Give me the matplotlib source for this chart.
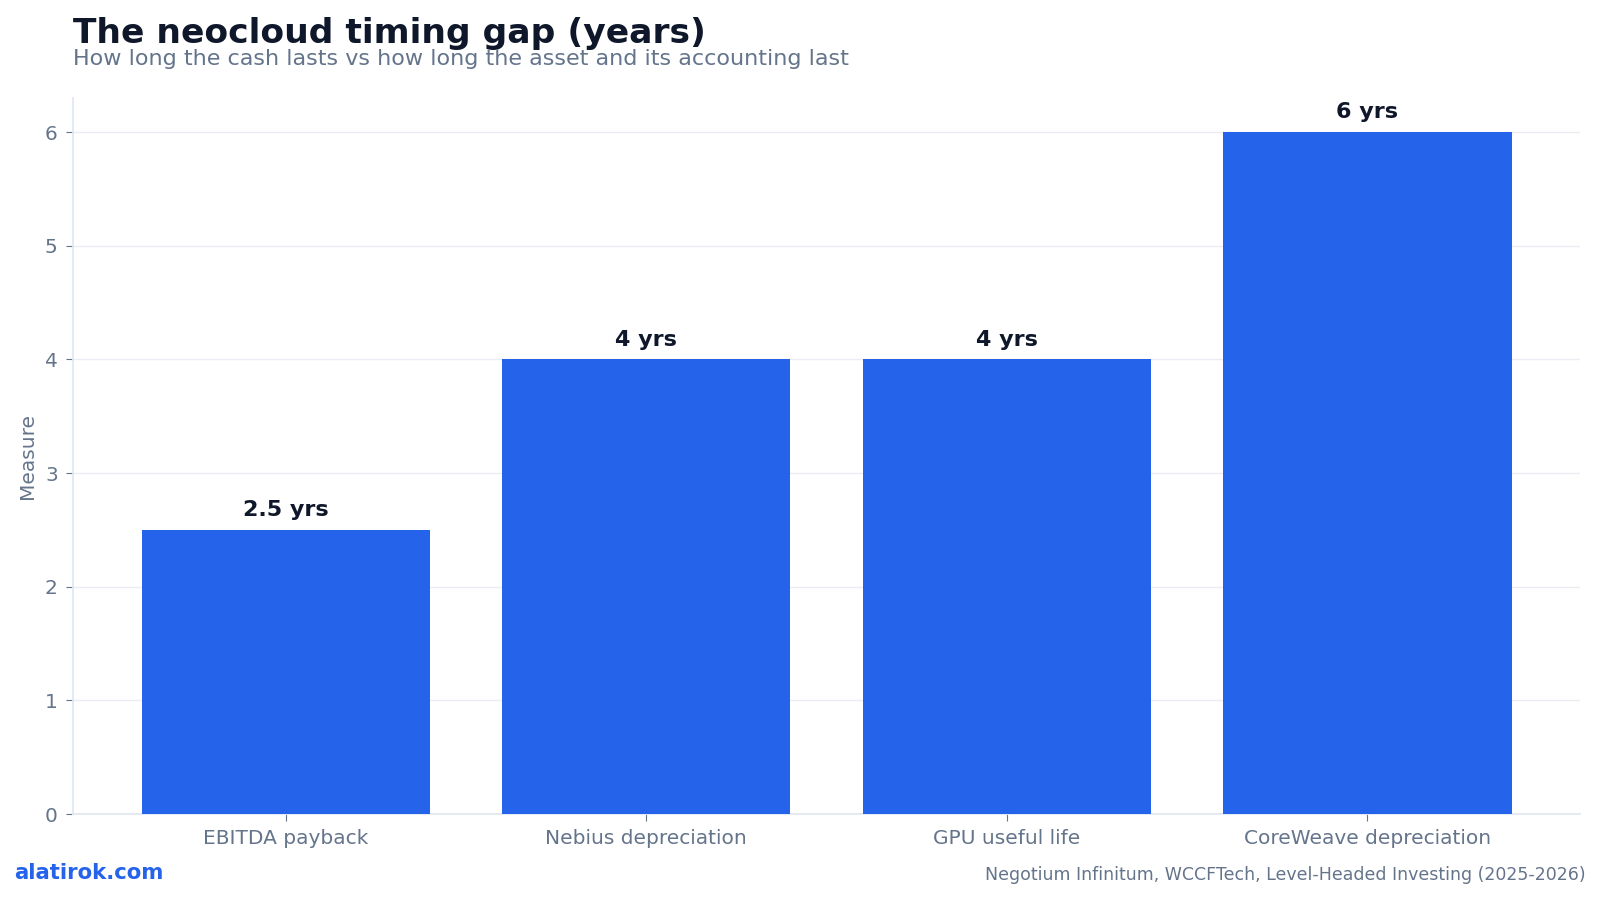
import matplotlib.pyplot as plt
import numpy as np

# data
categories = ['EBITDA payback', 'Nebius depreciation', 'GPU useful life', 'CoreWeave depreciation']
years = [2.5, 4, 4, 6]
labels = ['2.5 yrs', '4 yrs', '4 yrs', '6 yrs']

BLUE = '#2563EB'
DARK = '#0F172A'
GRAY = '#64748B'
LIGHT = '#E2E8F0'

plt.rcParams['font.family'] = ['DejaVu Sans']

fig = plt.figure(figsize=(16, 8.99), dpi=100)
ax = fig.add_axes([73 / 1600, 1 - 814 / 899, (1580 - 73) / 1600, (814 - 98) / 899])

x = np.arange(len(categories))
bars = ax.bar(x, years, width=0.8, color=BLUE, zorder=3)

ax.set_xlim(-0.59, 3.59)
ax.set_ylim(0, 6.3)
ax.set_xticks(x)
ax.set_xticklabels(categories, fontsize=14.5, color=GRAY)
ax.set_yticks(range(0, 7))
ax.tick_params(axis='y', labelsize=14.5, labelcolor=GRAY, color=GRAY, length=5, pad=6)
ax.tick_params(axis='x', color=GRAY, length=5, pad=6)
ax.grid(axis='y', color=LIGHT, linewidth=1, alpha=0.7, zorder=0)

for side in ['top', 'right']:
    ax.spines[side].set_visible(False)
for side in ['left', 'bottom']:
    ax.spines[side].set_color(LIGHT)
    ax.spines[side].set_linewidth(1.3)

ax.set_ylabel('Measure', fontsize=14.5, color=GRAY, labelpad=6)

for bar, lab in zip(bars, labels):
    ax.annotate(lab, xy=(bar.get_x() + bar.get_width() / 2, bar.get_height()),
                xytext=(0, 7), textcoords='offset points',
                ha='center', va='bottom', fontsize=16, fontweight='bold', color=DARK)

fig.text(73 / 1600, 1 - 43 / 899, 'The neocloud timing gap (years)', fontsize=24.8,
         fontweight='bold', color=DARK, ha='left', va='baseline')
fig.text(73 / 1600, 1 - 65 / 899, 'How long the cash lasts vs how long the asset and its accounting last',
         fontsize=16, color=GRAY, ha='left', va='baseline')
fig.text(14 / 1600, 1 - 879 / 899, 'alatirok.com', fontsize=15.3, fontweight='bold',
         color=BLUE, ha='left', va='baseline')
fig.text(1586 / 1600, 1 - 880 / 899, 'Negotium Infinitum, WCCFTech, Level-Headed Investing (2025-2026)',
         fontsize=12.5, color=GRAY, ha='right', va='baseline')

fig.savefig('out.png', dpi=100)
